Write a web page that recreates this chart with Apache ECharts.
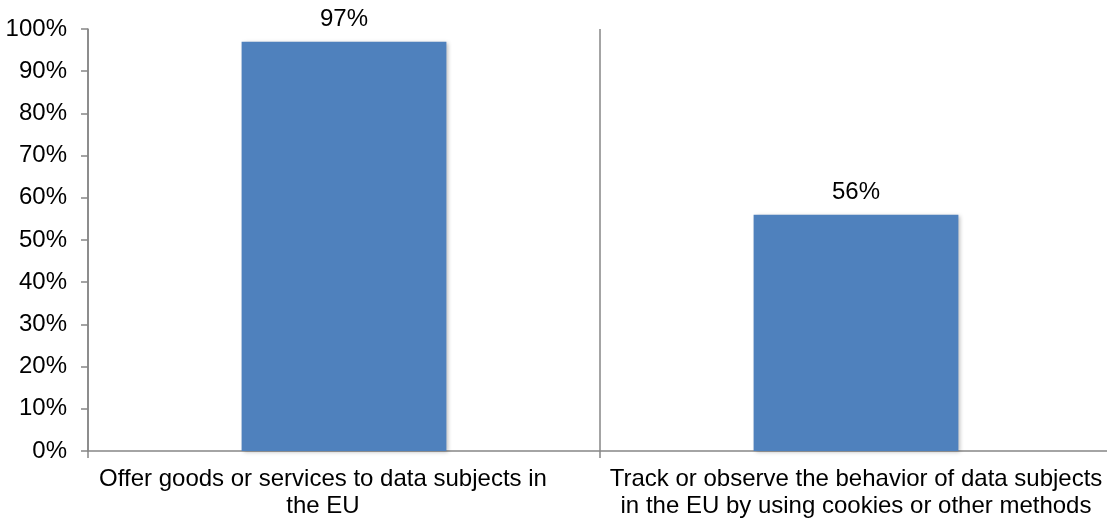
<!DOCTYPE html>
<html>
<head>
<meta charset="utf-8">
<script src="https://cdn.jsdelivr.net/npm/echarts@6/dist/echarts.min.js"></script>
<style>
  html, body { margin: 0; padding: 0; background: #fff; }
  #chart { width: 1107px; height: 521px; }
</style>
</head>
<body>
<div id="chart"></div>
<script>
// data
const categories = [
  "Offer goods or services to data subjects in\nthe EU",
  "Track or observe the behavior of data subjects\nin the EU by using cookies or other methods"
];
const shares = [97, 56];

const axisGray = "#868686";
const font = "Liberation Sans, Arial, sans-serif";

let myChart = echarts.init(document.getElementById("chart"));

myChart.setOption({
  animation: false,
  grid: {
    left: 88,
    width: 1024,
    top: 29,
    bottom: 70,
    outerBoundsMode: "none"
  },
  xAxis: {
    type: "category",
    // first label sits a little left of its bar in the original
    data: [
      { value: categories[0], textStyle: { padding: [0, 42, 0, 0] } },
      categories[1]
    ],
    axisLine: { lineStyle: { color: axisGray, width: 1.5 } },
    axisTick: { show: true, length: 7, lineStyle: { color: axisGray, width: 1.5 } },
    splitLine: { show: true, lineStyle: { color: axisGray, width: 1.5 } },
    axisLabel: {
      color: "#000",
      fontFamily: font,
      fontSize: 24,
      lineHeight: 27,
      margin: 15,
      interval: 0
    }
  },
  yAxis: {
    type: "value",
    min: 0,
    max: 100,
    interval: 10,
    axisLine: { show: true, lineStyle: { color: axisGray, width: 1.5 } },
    axisTick: { show: true, length: 7, lineStyle: { color: axisGray, width: 1.5 } },
    splitLine: { show: false },
    axisLabel: {
      color: "#000",
      fontFamily: font,
      fontSize: 24,
      margin: 21,
      formatter: "{value}%"
    }
  },
  series: [
    {
      type: "bar",
      data: shares,
      barWidth: "40%",
      itemStyle: {
        color: "#4F81BD",
        shadowBlur: 4,
        shadowColor: "rgba(0,0,0,0.25)",
        shadowOffsetX: 2,
        shadowOffsetY: 1
      },
      label: {
        show: true,
        position: "top",
        distance: 10,
        color: "#000",
        fontFamily: font,
        fontSize: 24,
        formatter: "{c}%"
      }
    }
  ]
});
</script>
</body>
</html>
